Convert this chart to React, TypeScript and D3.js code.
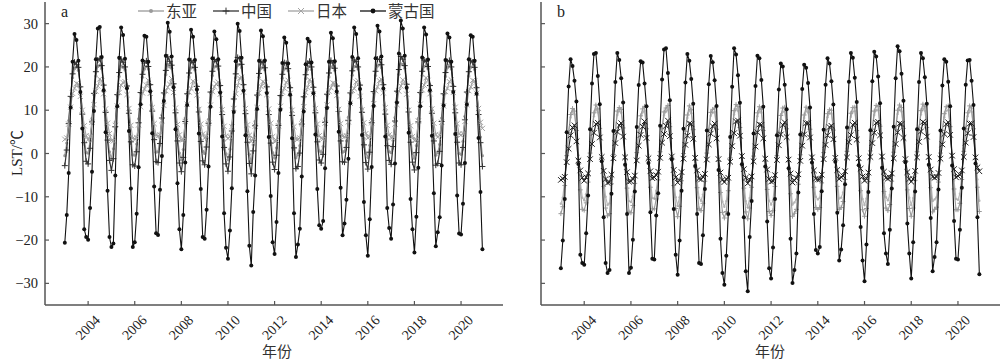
import * as d3 from "d3";

const W = 1000;
const H = 361;

const years = [2003, 2004, 2005, 2006, 2007, 2008, 2009, 2010, 2011, 2012, 2013, 2014, 2015, 2016, 2017, 2018, 2019, 2020];
const xTicks = [2004, 2006, 2008, 2010, 2012, 2014, 2016, 2018, 2020];
const yTicks = [-30, -20, -10, 0, 10, 20, 30];
const legendNames = ["东亚", "中国", "日本", "蒙古国"];

// panel a, monthly (Jan..Dec per row)
const eastAsiaA = [
  -0.5, 2.4, 7.6, 13.0, 17.5, 19.6, 20.0, 19.2, 15.4, 9.8, 3.6, 0.2,
  0.1, 2.9, 8.1, 13.6, 17.9, 20.1, 20.4, 19.6, 15.8, 10.1, 4.0, 0.4,
  -1.2, 1.1, 7.3, 13.4, 17.8, 20.2, 19.9, 19.3, 15.6, 10.0, 3.9, -0.3,
  -0.4, 2.2, 8.0, 13.9, 17.6, 19.5, 20.1, 19.5, 15.9, 10.4, 4.2, 0.3,
  0.4, 3.6, 8.9, 13.8, 18.2, 20.6, 20.0, 19.7, 16.0, 10.2, 3.9, 0.1,
  -1.5, 0.9, 8.2, 13.7, 17.7, 19.8, 19.9, 19.3, 15.6, 10.3, 4.1, 0.5,
  0.0, 3.1, 7.9, 14.0, 18.0, 20.0, 20.1, 19.5, 15.7, 9.8, 3.0, -0.1,
  -1.4, 1.0, 6.4, 12.6, 17.5, 20.4, 20.6, 19.8, 15.9, 10.0, 3.8, -0.2,
  -1.9, 2.0, 7.4, 13.3, 17.6, 19.7, 20.0, 19.3, 15.5, 9.9, 3.7, 0.2,
  -1.0, 1.3, 7.5, 13.2, 17.4, 19.5, 19.8, 19.1, 15.3, 9.6, 2.9, -1.0,
  -0.3, 1.8, 7.8, 13.0, 17.3, 19.4, 20.2, 19.4, 15.4, 10.2, 4.0, 0.6,
  0.3, 1.6, 8.1, 13.5, 17.7, 20.0, 19.9, 19.2, 15.7, 10.4, 4.2, 0.3,
  0.5, 2.9, 8.4, 13.8, 18.1, 20.1, 20.2, 19.5, 15.8, 10.2, 3.5, 0.1,
  -0.9, 1.9, 8.0, 14.0, 18.0, 20.2, 20.5, 19.8, 15.9, 9.9, 3.3, 0.4,
  0.2, 3.0, 8.3, 14.1, 18.3, 20.7, 20.6, 19.7, 16.0, 10.3, 3.9, 0.1,
  -1.1, 1.8, 8.1, 13.9, 18.0, 20.1, 20.3, 19.6, 15.8, 10.1, 4.1, -0.4,
  0.2, 2.1, 8.2, 13.6, 17.8, 19.8, 20.4, 19.5, 15.6, 10.2, 3.9, 0.0,
  -0.2, 2.8, 8.6, 14.0, 17.9, 19.9, 20.1, 19.4, 15.3, 9.8, 3.8, -0.5,
];

const chinaA = [
  -2.8, 0.8, 6.9, 13.2, 18.4, 21.1, 20.6, 19.9, 15.4, 9.1, 2.5, -1.8,
  -2.4, 1.2, 7.3, 13.9, 18.9, 21.6, 21.9, 20.3, 15.8, 9.5, 3.1, -1.6,
  -3.9, -1.2, 6.2, 13.6, 18.7, 21.8, 21.1, 20.0, 15.6, 9.3, 2.7, -2.6,
  -2.9, 0.4, 7.1, 14.1, 18.3, 20.9, 21.4, 20.1, 15.9, 9.8, 3.2, -1.9,
  -2.1, 2.3, 8.2, 14.0, 19.2, 22.3, 21.3, 20.4, 16.1, 9.4, 2.9, -2.2,
  -4.2, -0.9, 7.4, 13.8, 18.6, 21.4, 21.0, 19.9, 15.5, 9.6, 2.8, -1.7,
  -2.6, 1.5, 7.0, 14.2, 19.0, 21.7, 21.2, 20.2, 15.7, 9.0, 1.4, -2.4,
  -4.1, -0.8, 5.2, 12.6, 18.4, 22.2, 21.9, 20.6, 15.9, 9.2, 2.6, -2.3,
  -4.7, 0.6, 6.4, 13.5, 18.5, 21.2, 21.0, 19.8, 15.4, 9.0, 2.4, -2.0,
  -3.7, -0.4, 6.5, 13.4, 18.3, 21.0, 20.8, 19.6, 15.2, 8.8, 1.3, -3.5,
  -3.0, 0.1, 6.8, 13.1, 18.2, 20.8, 21.3, 20.0, 15.3, 9.4, 2.7, -1.5,
  -2.2, -0.2, 7.2, 13.7, 18.6, 21.5, 20.9, 19.7, 15.6, 9.7, 2.9, -1.9,
  -2.0, 1.4, 7.6, 14.0, 19.1, 21.6, 21.2, 20.0, 15.8, 9.5, 2.0, -2.1,
  -3.6, 0.3, 7.1, 14.3, 19.0, 21.8, 21.7, 20.5, 15.9, 9.1, 1.8, -1.6,
  -2.5, 1.6, 7.5, 14.4, 19.4, 22.4, 21.8, 20.3, 16.0, 9.6, 2.6, -2.0,
  -3.8, 0.2, 7.3, 14.1, 19.0, 21.6, 21.3, 20.1, 15.7, 9.3, 2.9, -2.7,
  -2.3, 0.5, 7.4, 13.8, 18.7, 21.2, 21.5, 20.0, 15.5, 9.4, 2.6, -2.2,
  -2.6, 1.4, 7.8, 14.2, 18.9, 21.4, 21.1, 19.9, 15.2, 9.0, 2.5, -3.0,
];

const japanA = [
  3.3, 3.6, 6.8, 10.7, 13.9, 15.1, 16.2, 16.0, 13.2, 10.0, 6.4, 4.1,
  3.2, 3.9, 7.2, 11.3, 14.4, 15.6, 17.2, 16.8, 13.8, 10.3, 7.0, 4.6,
  3.0, 2.9, 6.5, 11.0, 14.1, 15.8, 16.4, 16.6, 13.6, 10.4, 6.5, 3.5,
  3.4, 3.7, 6.6, 10.8, 14.0, 14.9, 15.8, 16.9, 13.9, 10.6, 6.9, 4.2,
  4.1, 4.3, 7.6, 11.1, 14.5, 15.3, 16.0, 17.3, 14.1, 10.5, 6.7, 4.3,
  3.1, 3.2, 7.4, 11.4, 14.2, 15.0, 16.7, 16.4, 13.5, 10.2, 6.8, 4.5,
  3.6, 4.0, 7.0, 11.2, 14.3, 15.4, 16.1, 16.5, 13.7, 10.1, 6.3, 4.0,
  3.5, 3.9, 6.2, 10.4, 13.8, 15.7, 17.4, 17.6, 14.2, 10.4, 6.6, 4.2,
  2.8, 3.5, 6.3, 10.6, 14.0, 15.5, 16.6, 16.3, 13.6, 10.3, 7.0, 3.9,
  2.9, 3.0, 6.4, 10.9, 14.2, 15.1, 16.4, 16.9, 13.9, 10.0, 6.2, 3.4,
  3.3, 3.6, 6.9, 10.8, 14.1, 15.3, 17.0, 16.7, 13.8, 10.4, 6.8, 4.1,
  3.5, 3.4, 7.0, 11.2, 14.4, 15.2, 16.3, 16.2, 13.4, 10.2, 6.9, 4.0,
  3.9, 4.1, 7.3, 11.6, 14.6, 15.0, 16.5, 16.8, 13.2, 10.1, 7.1, 4.6,
  3.6, 3.9, 7.1, 11.5, 14.5, 15.4, 16.8, 17.1, 14.0, 10.6, 6.5, 4.3,
  3.7, 3.8, 6.8, 11.3, 14.4, 15.6, 17.0, 16.6, 13.7, 10.0, 6.4, 3.9,
  3.0, 3.3, 7.5, 11.4, 14.7, 15.8, 17.5, 16.9, 13.8, 10.3, 7.0, 4.4,
  3.8, 4.2, 7.2, 11.0, 14.3, 15.1, 16.6, 17.0, 14.1, 10.7, 6.9, 4.5,
  4.3, 4.6, 7.4, 11.3, 14.5, 15.4, 16.9, 16.7, 13.9, 10.4, 7.2, 5.8,
];

const mongoliaA = [
  -20.6, -14.2, -4.5, 10.6, 21.2, 27.6, 26.2, 21.4, 14.2, 5.8, -17.5, -19.3,
  -19.9, -12.6, -4.2, 9.8, 21.8, 28.9, 29.2, 22.3, 14.6, 4.9, -8.6, -19.3,
  -21.6, -20.8, -5.1, 10.9, 22.1, 29.1, 27.4, 21.9, 15.1, 5.2, -8.1, -21.6,
  -20.5, -13.9, -3.2, 11.4, 21.5, 27.2, 27.0, 21.2, 14.4, 4.7, -7.6, -18.4,
  -18.8, -8.4, -0.6, 12.1, 22.6, 30.2, 28.1, 22.4, 15.3, 5.6, -6.9, -17.5,
  -22.1, -14.2, -2.1, 11.2, 21.7, 28.6, 27.0, 21.6, 14.8, 4.6, -8.2, -19.3,
  -19.7, -13.0, -3.0, 10.8, 22.0, 28.2, 26.4, 21.8, 14.1, 3.9, -13.8, -21.8,
  -24.3, -17.8, -8.0, 9.6, 21.3, 30.0, 28.3, 22.1, 14.5, 4.2, -8.7, -21.3,
  -25.9, -13.5, -5.1, 10.3, 21.4, 28.4, 27.1, 21.5, 14.0, 3.8, -9.8, -20.5,
  -23.2, -15.8, -4.5, 10.1, 20.9, 26.8, 25.6, 20.8, 13.6, 3.5, -13.8, -23.9,
  -21.0, -17.4, -5.3, 9.7, 20.6, 26.5, 25.9, 21.0, 13.9, 4.4, -8.2, -16.6,
  -17.4, -15.6, -3.4, 10.5, 21.2, 27.9, 26.6, 21.3, 14.3, 5.0, -7.9, -18.9,
  -16.2, -10.7, -1.2, 11.6, 22.3, 29.1, 27.6, 22.0, 14.9, 4.3, -11.2, -18.9,
  -23.6, -15.2, -3.1, 11.0, 22.0, 29.5, 28.2, 22.4, 15.0, 3.9, -12.6, -17.2,
  -19.7, -11.8, -2.3, 11.8, 23.1, 30.7, 28.9, 22.6, 15.2, 4.8, -10.5, -17.5,
  -22.9, -14.6, -3.3, 10.9, 22.2, 29.1, 27.5, 21.7, 14.6, 4.1, -9.2, -21.4,
  -18.2, -14.7, -2.8, 11.1, 21.6, 27.7, 26.8, 21.2, 14.2, 4.5, -9.7, -18.5,
  -18.7, -11.6, -2.2, 11.3, 21.8, 27.3, 27.0, 21.4, 13.8, 3.6, -8.9, -22.1,
];

// panel b, monthly (Jan..Dec per row)
const eastAsiaB = [
  -11.6, -10.2, -5.8, 0.3, 5.0, 8.3, 9.6, 9.0, 5.6, -0.4, -6.5, -10.2,
  -10.8, -9.4, -5.1, 0.8, 5.5, 8.6, 10.2, 9.5, 6.0, 0.0, -5.9, -10.0,
  -11.9, -11.5, -5.6, 0.6, 5.4, 8.9, 9.8, 9.4, 6.1, -0.2, -6.2, -11.0,
  -11.2, -9.9, -5.3, 0.9, 5.1, 8.0, 9.5, 9.9, 5.9, -0.3, -6.0, -10.3,
  -10.4, -8.6, -4.7, 1.1, 5.8, 8.8, 9.7, 10.1, 6.3, 0.1, -5.7, -10.1,
  -12.0, -10.1, -4.9, 0.7, 5.3, 8.2, 10.0, 9.3, 5.7, -0.5, -6.1, -10.2,
  -10.9, -9.5, -5.0, 0.8, 5.6, 8.7, 9.4, 9.6, 5.8, -0.6, -7.0, -11.1,
  -12.3, -11.0, -6.8, -0.2, 5.0, 9.0, 10.3, 9.9, 6.2, -0.1, -6.2, -11.0,
  -12.4, -10.3, -6.1, 0.1, 4.9, 8.6, 9.9, 9.4, 5.5, -0.7, -6.4, -10.9,
  -11.8, -10.8, -5.9, 0.2, 5.0, 8.1, 9.6, 9.8, 5.9, -0.8, -7.2, -11.8,
  -11.3, -10.6, -5.5, 0.4, 4.9, 8.2, 9.8, 9.5, 5.8, -0.3, -6.0, -10.0,
  -10.6, -10.2, -5.2, 0.9, 5.4, 8.4, 9.3, 9.2, 5.6, -0.2, -5.9, -10.4,
  -10.2, -9.0, -4.6, 1.2, 5.9, 8.5, 9.7, 9.8, 5.5, -0.4, -6.6, -10.5,
  -11.9, -10.4, -5.0, 1.3, 5.8, 8.9, 10.1, 10.0, 6.4, -0.2, -6.8, -10.1,
  -10.8, -9.6, -4.9, 1.0, 5.7, 9.1, 10.2, 9.7, 5.9, -0.6, -6.5, -10.2,
  -11.9, -10.3, -4.8, 1.1, 6.0, 9.0, 10.4, 9.9, 6.1, -0.2, -6.1, -11.0,
  -10.6, -10.1, -5.1, 0.8, 5.5, 8.4, 9.9, 10.0, 6.3, 0.0, -6.3, -10.5,
  -10.7, -9.3, -4.6, 1.2, 5.8, 8.6, 10.0, 9.6, 5.8, -0.3, -6.0, -10.9,
];

const chinaB = [
  -13.9, -12.3, -7.4, -0.5, 4.8, 9.0, 10.4, 9.8, 5.3, -1.4, -8.4, -12.9,
  -13.1, -11.4, -6.6, 0.1, 5.3, 9.4, 11.2, 10.3, 5.8, -0.9, -7.6, -12.6,
  -14.4, -13.9, -7.0, -0.2, 5.2, 9.8, 10.6, 10.2, 5.9, -1.2, -8.0, -13.5,
  -13.7, -12.0, -6.9, 0.2, 4.9, 8.7, 10.3, 10.9, 5.7, -1.3, -7.8, -12.8,
  -12.8, -10.5, -6.1, 0.4, 5.7, 9.6, 10.5, 11.1, 6.2, -0.8, -7.4, -12.7,
  -14.6, -12.2, -6.3, 0.0, 5.1, 8.9, 11.0, 10.1, 5.5, -1.6, -7.9, -12.8,
  -13.2, -11.5, -6.4, 0.1, 5.4, 9.5, 10.2, 10.5, 5.6, -1.7, -9.0, -13.6,
  -14.9, -13.4, -8.6, -1.0, 4.8, 9.9, 11.3, 10.8, 6.0, -1.1, -8.0, -13.5,
  -15.1, -12.6, -7.8, -0.6, 4.7, 9.4, 10.8, 10.2, 5.3, -1.8, -8.3, -13.4,
  -14.3, -13.2, -7.6, -0.5, 4.8, 8.8, 10.5, 10.7, 5.7, -1.9, -9.3, -14.5,
  -13.8, -12.9, -7.1, -0.3, 4.7, 8.9, 10.7, 10.3, 5.6, -1.3, -7.8, -12.5,
  -12.9, -12.5, -6.8, 0.2, 5.2, 9.2, 10.1, 10.0, 5.4, -1.2, -7.6, -12.9,
  -12.5, -11.1, -6.0, 0.5, 5.8, 9.3, 10.6, 10.7, 5.3, -1.5, -8.6, -13.0,
  -14.5, -12.7, -6.5, 0.6, 5.6, 9.8, 11.1, 10.9, 6.3, -1.2, -8.8, -12.6,
  -13.2, -11.8, -6.4, 0.3, 5.5, 10.0, 11.2, 10.6, 5.8, -1.6, -8.4, -12.7,
  -14.5, -12.6, -6.2, 0.4, 5.9, 9.9, 11.4, 10.8, 6.0, -1.2, -7.9, -13.5,
  -12.9, -12.4, -6.6, 0.1, 5.3, 9.2, 10.8, 11.0, 6.2, -0.9, -8.2, -13.0,
  -13.0, -11.5, -6.0, 0.5, 5.7, 9.4, 11.0, 10.5, 5.7, -1.3, -7.8, -13.4,
];

const japanB = [
  -6.1, -5.8, -5.4, -2.0, 1.1, 4.2, 6.0, 6.5, 2.8, -1.6, -3.9, -5.6,
  -6.3, -5.5, -4.6, -1.3, 2.2, 4.8, 6.8, 7.1, 3.7, -0.8, -4.0, -5.9,
  -6.8, -6.6, -4.9, -1.1, 2.4, 5.0, 6.5, 7.0, 3.9, -0.9, -4.3, -6.5,
  -6.4, -5.9, -5.1, -1.6, 1.8, 4.3, 6.2, 7.4, 3.6, -1.1, -4.1, -5.7,
  -5.5, -5.0, -4.2, -1.0, 2.5, 4.5, 6.4, 7.6, 4.0, -0.7, -3.8, -5.5,
  -6.7, -6.2, -4.3, -1.2, 2.0, 4.1, 6.9, 6.8, 3.4, -1.0, -3.9, -5.8,
  -6.0, -5.4, -4.7, -1.4, 2.1, 4.6, 6.3, 6.9, 3.5, -1.3, -4.4, -6.1,
  -6.6, -5.9, -5.6, -1.9, 1.7, 4.7, 7.4, 7.6, 4.1, -0.6, -3.6, -5.6,
  -6.9, -6.1, -5.3, -1.8, 1.6, 4.9, 6.7, 6.6, 3.5, -1.2, -3.7, -5.9,
  -6.5, -6.4, -5.0, -1.5, 1.9, 4.4, 6.6, 7.2, 3.8, -1.4, -4.6, -6.7,
  -6.2, -5.7, -4.8, -1.7, 1.8, 4.4, 7.0, 7.0, 3.7, -0.9, -3.9, -5.8,
  -6.0, -6.0, -4.9, -1.3, 2.0, 4.2, 6.1, 6.4, 3.3, -1.0, -3.8, -5.9,
  -5.4, -5.2, -4.1, -0.9, 2.6, 4.3, 6.6, 7.1, 3.2, -1.1, -3.5, -5.3,
  -6.3, -5.8, -4.4, -0.8, 2.4, 4.8, 7.1, 7.3, 4.2, -0.7, -4.2, -5.6,
  -5.8, -5.6, -4.6, -1.1, 2.2, 4.9, 6.9, 6.8, 3.6, -1.3, -4.3, -5.9,
  -6.5, -5.9, -4.0, -0.9, 2.7, 5.1, 7.3, 7.0, 3.9, -0.8, -3.7, -5.4,
  -5.6, -5.4, -4.5, -1.2, 2.1, 4.5, 6.8, 7.2, 4.3, -0.5, -3.6, -5.5,
  -5.2, -4.9, -3.9, -0.8, 2.5, 4.7, 6.9, 6.9, 3.8, -0.9, -3.2, -4.1,
];

const mongoliaB = [
  -26.5, -20.1, -10.5, 4.9, 15.5, 21.8, 20.2, 16.8, 12.0, -2.4, -23.4, -25.3,
  -25.7, -18.4, -9.7, 5.6, 16.2, 23.0, 23.2, 17.9, 11.4, -1.8, -14.7, -25.3,
  -27.6, -26.9, -9.3, 5.2, 16.5, 23.2, 21.6, 17.4, 11.8, -2.6, -14.0, -27.6,
  -26.4, -19.9, -8.8, 6.1, 15.8, 21.3, 21.0, 16.2, 10.9, -2.2, -13.6, -24.3,
  -24.5, -14.3, -9.2, 6.4, 17.1, 24.0, 24.3, 18.6, 12.3, -1.4, -12.8, -23.4,
  -28.0, -20.1, -8.6, 5.7, 16.4, 23.0, 21.4, 17.2, 11.5, -2.9, -14.0, -25.3,
  -25.5, -18.9, -8.2, 5.3, 16.0, 22.5, 21.1, 16.9, 11.0, -3.8, -19.7, -27.6,
  -30.3, -23.6, -14.0, 3.8, 15.4, 24.3, 22.9, 18.1, 11.7, -2.5, -14.7, -27.2,
  -31.8, -19.3, -11.0, 4.6, 15.6, 22.6, 22.0, 17.0, 10.8, -3.0, -15.7, -26.5,
  -28.9, -21.7, -10.5, 4.2, 14.8, 20.8, 20.1, 15.9, 10.2, -3.4, -19.7, -29.9,
  -26.9, -23.1, -9.0, 4.4, 14.9, 20.5, 19.8, 16.3, 10.6, -2.1, -14.0, -22.3,
  -23.1, -21.6, -8.7, 5.5, 15.9, 22.0, 20.8, 16.7, 11.3, -1.9, -13.7, -24.7,
  -22.2, -16.6, -7.1, 6.0, 16.6, 23.2, 22.1, 17.5, 11.9, -2.7, -17.0, -24.7,
  -29.5, -21.0, -8.9, 5.4, 16.7, 23.5, 22.4, 17.8, 11.6, -3.3, -18.4, -23.1,
  -25.5, -17.6, -8.1, 6.2, 17.4, 24.8, 23.6, 18.4, 12.2, -2.0, -16.2, -23.1,
  -28.9, -20.5, -8.8, 5.6, 16.5, 23.2, 22.0, 17.6, 11.5, -2.6, -14.9, -27.2,
  -23.9, -20.5, -8.3, 5.3, 15.7, 21.8, 21.2, 16.6, 10.9, -2.8, -15.6, -24.3,
  -24.5, -17.6, -7.9, 5.8, 15.9, 21.5, 21.6, 16.8, 11.2, -2.3, -14.7, -27.9,
];

// month index -> decimal year (Jan sits on the year tick)
const times = mongoliaA.map((_, i) => years[Math.floor(i / 12)] + (i % 12) / 12);

type MarkerKind = "dot" | "plus" | "cross";
type Series = { values: number[]; color: string; marker: MarkerKind; r: number; width: number };

const styleA: Omit<Series, "values">[] = [
  { color: "#9a9a9a", marker: "dot", r: 1.6, width: 1.2 },
  { color: "#333333", marker: "plus", r: 3, width: 1.2 },
  { color: "#a3a3a3", marker: "cross", r: 2.6, width: 1.1 },
  { color: "#111111", marker: "dot", r: 2, width: 1.1 },
];
const styleB: Omit<Series, "values">[] = [
  { color: "#b5b5b5", marker: "dot", r: 1.2, width: 1.1 },
  { color: "#9a9a9a", marker: "plus", r: 2.4, width: 1.1 },
  { color: "#222222", marker: "cross", r: 2.8, width: 1.1 },
  { color: "#111111", marker: "dot", r: 2, width: 1.1 },
];

const seriesA: Series[] = [eastAsiaA, chinaA, japanA, mongoliaA].map((values, i) => ({ values, ...styleA[i] }));
const seriesB: Series[] = [eastAsiaB, chinaB, japanB, mongoliaB].map((values, i) => ({ values, ...styleB[i] }));

const serif = "'Liberation Serif', 'Times New Roman', 'Noto Sans CJK SC', serif";
const cjk = "'Noto Sans CJK SC', 'Liberation Serif', sans-serif";
const axisColor = "#555";

const y = d3.scaleLinear().domain([-35, 35]).range([305, 2]);

function Marker({ kind, cx, cy, r, color }: { kind: MarkerKind; cx: number; cy: number; r: number; color: string }) {
  if (kind === "dot") return <circle cx={cx} cy={cy} r={r} fill={color} />;
  const d =
    kind === "plus"
      ? `M${cx - r},${cy}H${cx + r}M${cx},${cy - r}V${cy + r}`
      : `M${cx - r},${cy - r}L${cx + r},${cy + r}M${cx - r},${cy + r}L${cx + r},${cy - r}`;
  return <path d={d} stroke={color} strokeWidth={1} fill="none" />;
}

function Panel({ x0, x1, series, letter, showYLabels, titleX }: {
  x0: number; x1: number; series: Series[]; letter: string; showYLabels: boolean; titleX: number;
}) {
  const x = d3.scaleLinear().domain([2002.15, 2021.8]).range([x0, x1]);
  const line = d3.line<number>().x((_, i) => x(times[i])).y((d) => y(d));
  const y0 = y(-35);

  return (
    <g>
      {series.map((s, si) => (
        <g key={si}>
          <path d={line(s.values) ?? ""} fill="none" stroke={s.color} strokeWidth={s.width} />
          {s.values.map((v, i) => (
            <Marker key={i} kind={s.marker} cx={x(times[i])} cy={y(v)} r={s.r} color={s.color} />
          ))}
        </g>
      ))}

      {/* axes */}
      <line x1={x0} x2={x0} y1={y(35)} y2={y0} stroke={axisColor} strokeWidth={1.5} />
      <line x1={x0} x2={x1} y1={y0} y2={y0} stroke={axisColor} strokeWidth={1.5} />
      {yTicks.map((t) => (
        <g key={t}>
          <line x1={x0} x2={x0 + 4} y1={y(t)} y2={y(t)} stroke={axisColor} strokeWidth={1.2} />
          {showYLabels && (
            <text x={x0 - 7} y={y(t)} dy="0.35em" textAnchor="end" fontSize={14.5} fontFamily={serif} fill="#222">
              {t < 0 ? `\u2212${-t}` : t}
            </text>
          )}
        </g>
      ))}
      {xTicks.map((t) => (
        <g key={t}>
          <line x1={x(t)} x2={x(t)} y1={y0} y2={y0 - 4} stroke={axisColor} strokeWidth={1.2} />
          <text
            transform={`translate(${x(t) + 6},${y0 + 9}) rotate(-45)`}
            textAnchor="end"
            dy="0.7em"
            fontSize={14}
            fontFamily={serif}
            fill="#222"
          >
            {t}
          </text>
        </g>
      ))}
      <text x={titleX} y={352} dy="0.35em" textAnchor="middle" fontSize={15} fontFamily={cjk} fill="#333">
        年份
      </text>
      <text x={x0 + 16} y={17} fontSize={16} fontFamily={serif} fill="#222">
        {letter}
      </text>
    </g>
  );
}

function Legend() {
  const spots = [138, 213, 288, 360];
  return (
    <g>
      {legendNames.map((name, i) => {
        const s = styleA[i];
        const lx = spots[i];
        return (
          <g key={name}>
            <line x1={lx} x2={lx + 26} y1={11} y2={11} stroke={s.color} strokeWidth={1.3} />
            <Marker kind={s.marker} cx={lx + 13} cy={11} r={s.r + 0.4} color={s.color} />
            <text x={lx + 28} y={11} dy="0.36em" fontSize={15.5} fontFamily={cjk} fill="#333">
              {name}
            </text>
          </g>
        );
      })}
    </g>
  );
}

export default function App() {
  return (
    <svg width={W} height={H} viewBox={`0 0 ${W} ${H}`} style={{ display: "block", position: "absolute", left: 0, top: 0, background: "#fff" }}>
      <rect width={W} height={H} fill="#fff" />
      <Panel x0={45} x1={503} series={seriesA} letter="a" showYLabels titleX={277} />
      <Panel x0={541} x1={1000} series={seriesB} letter="b" showYLabels={false} titleX={770} />
      <Legend />
      <text
        transform="translate(17,153) rotate(-90)"
        textAnchor="middle"
        dy="0.35em"
        fontSize={15}
        fontFamily={serif}
        fill="#222"
      >
        LST/℃
      </text>
    </svg>
  );
}
